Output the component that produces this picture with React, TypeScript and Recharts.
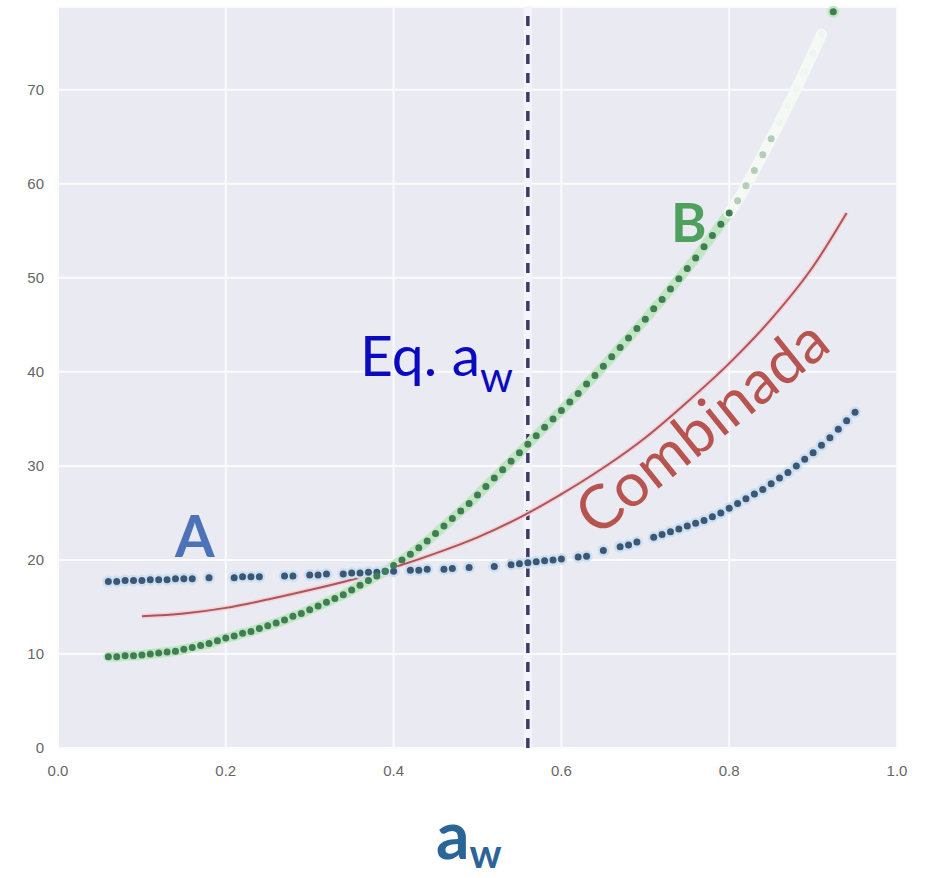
import React from "react";
import {
  ComposedChart,
  Scatter,
  Line,
  XAxis,
  YAxis,
  CartesianGrid,
  ReferenceLine,
} from "recharts";

// water activity (a_w) axis
const xTicks = [0, 0.2, 0.4, 0.6, 0.8, 1.0];
const yTicks = [0, 10, 20, 30, 40, 50, 60, 70];

// equilibrium a_w
const eqAw = 0.56;

// sample A (blue dots)
const aX = [
  0.06, 0.07, 0.08, 0.09, 0.1, 0.11, 0.12, 0.13, 0.14, 0.15, 0.16, 0.18,
  0.21, 0.22, 0.23, 0.24, 0.27, 0.28, 0.3, 0.31, 0.32, 0.34, 0.35, 0.36,
  0.37, 0.38, 0.39, 0.4, 0.42, 0.43, 0.44, 0.46, 0.47, 0.49, 0.52, 0.54,
  0.55, 0.56, 0.57, 0.58, 0.59, 0.6, 0.62, 0.63, 0.65, 0.67, 0.68, 0.69,
  0.71, 0.72, 0.73, 0.74, 0.75, 0.76, 0.77, 0.78, 0.79, 0.8, 0.81, 0.82,
  0.83, 0.84, 0.85, 0.86, 0.87, 0.88, 0.89, 0.9, 0.91, 0.92, 0.93, 0.94,
  0.95,
];
const aY = [
  17.7, 17.7, 17.8, 17.8, 17.8, 17.9, 17.9, 17.9, 18.0, 18.0, 18.0, 18.1,
  18.1, 18.2, 18.2, 18.2, 18.3, 18.3, 18.4, 18.4, 18.5, 18.5, 18.6, 18.6,
  18.7, 18.7, 18.8, 18.8, 18.9, 18.9, 19.0, 19.0, 19.1, 19.2, 19.3, 19.5,
  19.6, 19.7, 19.8, 19.9, 20.0, 20.1, 20.3, 20.4, 21.0, 21.4, 21.6, 21.9,
  22.4, 22.7, 23.0, 23.3, 23.6, 23.9, 24.2, 24.6, 25.0, 25.5, 26.0, 26.5,
  27.0, 27.5, 28.1, 28.7, 29.3, 30.0, 30.7, 31.4, 32.2, 33.0, 33.9, 34.8,
  35.7,
];

// sample B (green dots)
const bX = [
  0.06, 0.07, 0.08, 0.09, 0.1, 0.11, 0.12, 0.13, 0.14, 0.15, 0.16, 0.17,
  0.18, 0.19, 0.2, 0.21, 0.22, 0.23, 0.24, 0.25, 0.26, 0.27, 0.28, 0.29,
  0.3, 0.31, 0.32, 0.33, 0.34, 0.35, 0.36, 0.37, 0.38, 0.39, 0.4, 0.41,
  0.42, 0.43, 0.44, 0.45, 0.46, 0.47, 0.48, 0.49, 0.5, 0.51, 0.52, 0.53,
  0.54, 0.55, 0.56, 0.57, 0.58, 0.59, 0.6, 0.61, 0.62, 0.63, 0.64, 0.65,
  0.66, 0.67, 0.68, 0.69, 0.7, 0.71, 0.72, 0.73, 0.74, 0.75, 0.76, 0.77,
  0.78, 0.79, 0.8, 0.81, 0.82, 0.83, 0.84, 0.85, 0.86, 0.87, 0.88, 0.89,
  0.9, 0.91, 0.924,
];
const bY = [
  9.7, 9.7, 9.8, 9.8, 9.9, 10.0, 10.1, 10.2, 10.3, 10.5, 10.7, 10.9,
  11.1, 11.4, 11.7, 11.9, 12.2, 12.4, 12.7, 13.0, 13.3, 13.6, 14.0, 14.3,
  14.7, 15.1, 15.5, 15.9, 16.3, 16.8, 17.3, 17.8, 18.3, 18.8, 19.4, 20.0,
  20.6, 21.3, 22.0, 22.8, 23.6, 24.4, 25.2, 26.0, 26.9, 27.8, 28.7, 29.6,
  30.5, 31.4, 32.3, 33.2, 34.1, 35.0, 35.9, 36.8, 37.7, 38.7, 39.6, 40.6,
  41.6, 42.6, 43.6, 44.6, 45.6, 46.7, 47.7, 48.8, 49.9, 51.0, 52.1, 53.3,
  54.5, 55.7, 56.9, 58.2, 59.8, 61.4, 63.1, 64.8, 66.5, 68.3, 70.1, 72.0,
  73.9, 75.9, 78.3,
];

// combined curve
const combX = [
  0.1, 0.15, 0.2, 0.25, 0.3, 0.35, 0.4, 0.45, 0.5, 0.55, 0.6, 0.65, 0.7,
  0.75, 0.8, 0.85, 0.9, 0.94,
];
const combY = [
  14.0, 14.3, 14.9, 15.8, 16.8, 17.9, 19.2, 20.7, 22.4, 24.5, 27.0, 29.8,
  33.0, 36.8, 40.9, 45.6, 51.2, 56.9,
];

const ptsA = aX.map((x, i) => ({ x, y: aY[i] }));
const ptsB = bX.map((x, i) => ({ x, y: bY[i] }));
const ptsComb = combX.map((x, i) => ({ x, y: combY[i] }));

// B fades to white between ~0.8 and 0.91; the last dot stays dark
const isFaded = (x: number) => x > 0.805 && x < 0.915;
const ptsBSolid = ptsB.filter((p) => p.x <= 0.8);
const ptsBFaded = ptsB.filter((p) => p.x >= 0.8 && p.x < 0.915);
const ptsBLast = ptsB.filter((p) => p.x > 0.915);

const W = 931;
const H = 878;

const bCore = (x: number) => {
  if (x > 0.855 && x < 0.915) return "#f1f5f1";
  if (isFaded(x)) return "#b4cdb8";
  return "#3f7d52";
};

const haloA = (p: any) => <circle cx={p.cx} cy={p.cy} r={6} fill="#cde0f0" />;
const coreA = (p: any) => <circle cx={p.cx} cy={p.cy} r={3.5} fill="#3c5676" />;
const haloB = (p: any) => <circle cx={p.cx} cy={p.cy} r={6} fill="#c2e6c4" />;
const coreB = (p: any) => (
  <circle cx={p.cx} cy={p.cy} r={3.5} fill={bCore(p.payload?.x ?? p.x)} />
);

const tickStyle = { fontFamily: "Liberation Sans, Arial", fontSize: 15, fill: "#666" };

export default function App() {
  return (
    <div style={{ position: "absolute", left: 0, top: 0, width: W, height: H, background: "#fff" }}>
      <ComposedChart
        width={W}
        height={H}
        margin={{ top: 7, right: 34, bottom: 0, left: 0 }}
      >
        <CartesianGrid fill="#EAEAF2" stroke="#fbfbfd" strokeWidth={2} />
        <XAxis
          type="number"
          dataKey="x"
          domain={[0, 1]}
          ticks={xTicks}
          tickFormatter={(v: number) => v.toFixed(1)}
          axisLine={false}
          tickLine={false}
          tickSize={0}
          tickMargin={17}
          height={130}
          tick={tickStyle}
        />
        <YAxis
          type="number"
          dataKey="y"
          domain={[0, 78.8]}
          ticks={yTicks}
          axisLine={false}
          tickLine={false}
          tickSize={0}
          tickMargin={14}
          width={58}
          tick={tickStyle}
        />
        <ReferenceLine x={eqAw} stroke="#f4f4fa" strokeWidth={8} />
        <ReferenceLine x={eqAw} stroke="#3c3c68" strokeWidth={3.5} strokeDasharray="10 9" />
        <Scatter data={ptsA} dataKey="y" shape={haloA} isAnimationActive={false} />
        <Line
          data={ptsBSolid}
          dataKey="y"
          type="monotone"
          stroke="#c2e6c4"
          strokeWidth={10}
          strokeLinecap="round"
          dot={false}
          isAnimationActive={false}
        />
        <Line
          data={ptsBFaded}
          dataKey="y"
          type="monotone"
          stroke="#f5f9f5"
          strokeWidth={11}
          strokeLinecap="round"
          dot={false}
          isAnimationActive={false}
        />
        <Scatter data={ptsBLast} dataKey="y" shape={haloB} isAnimationActive={false} />
        <Line
          data={ptsComb}
          dataKey="y"
          type="monotone"
          stroke="#f3d3d6"
          strokeWidth={5}
          dot={false}
          isAnimationActive={false}
        />
        <Line
          data={ptsComb}
          dataKey="y"
          type="monotone"
          stroke="#ad555d"
          strokeWidth={2}
          dot={false}
          isAnimationActive={false}
        />
        <Scatter data={ptsA} dataKey="y" shape={coreA} isAnimationActive={false} />
        <Scatter data={ptsB} dataKey="y" shape={coreB} isAnimationActive={false} />
      </ComposedChart>
      <svg
        width={W}
        height={H}
        style={{ position: "absolute", left: 0, top: 0, pointerEvents: "none" }}
      >
        <text x={360} y={376} fontFamily="Lato" fontSize={57} fill="#0a0ac0">
          Eq. a
          <tspan dy={16} fontSize={42}>w</tspan>
        </text>
        <text x={175} y={557} fontFamily="Lato" fontWeight="bold" fontSize={57} fill="#4e72b8">
          A
        </text>
        <text x={671} y={242} fontFamily="Lato" fontWeight="bold" fontSize={54} fill="#4f9f5f">
          B
        </text>
        <text
          x={597}
          y={538}
          fontFamily="Lato"
          fontSize={61}
          fill="#b85450"
          transform="rotate(-38.7 597 538)"
        >
          Combinada
        </text>
        <text x={436} y={859} fontFamily="Lato" fontWeight="bold" fontSize={66} fill="#2b6496">
          a
          <tspan dy={9} fontSize={40}>w</tspan>
        </text>
      </svg>
    </div>
  );
}
